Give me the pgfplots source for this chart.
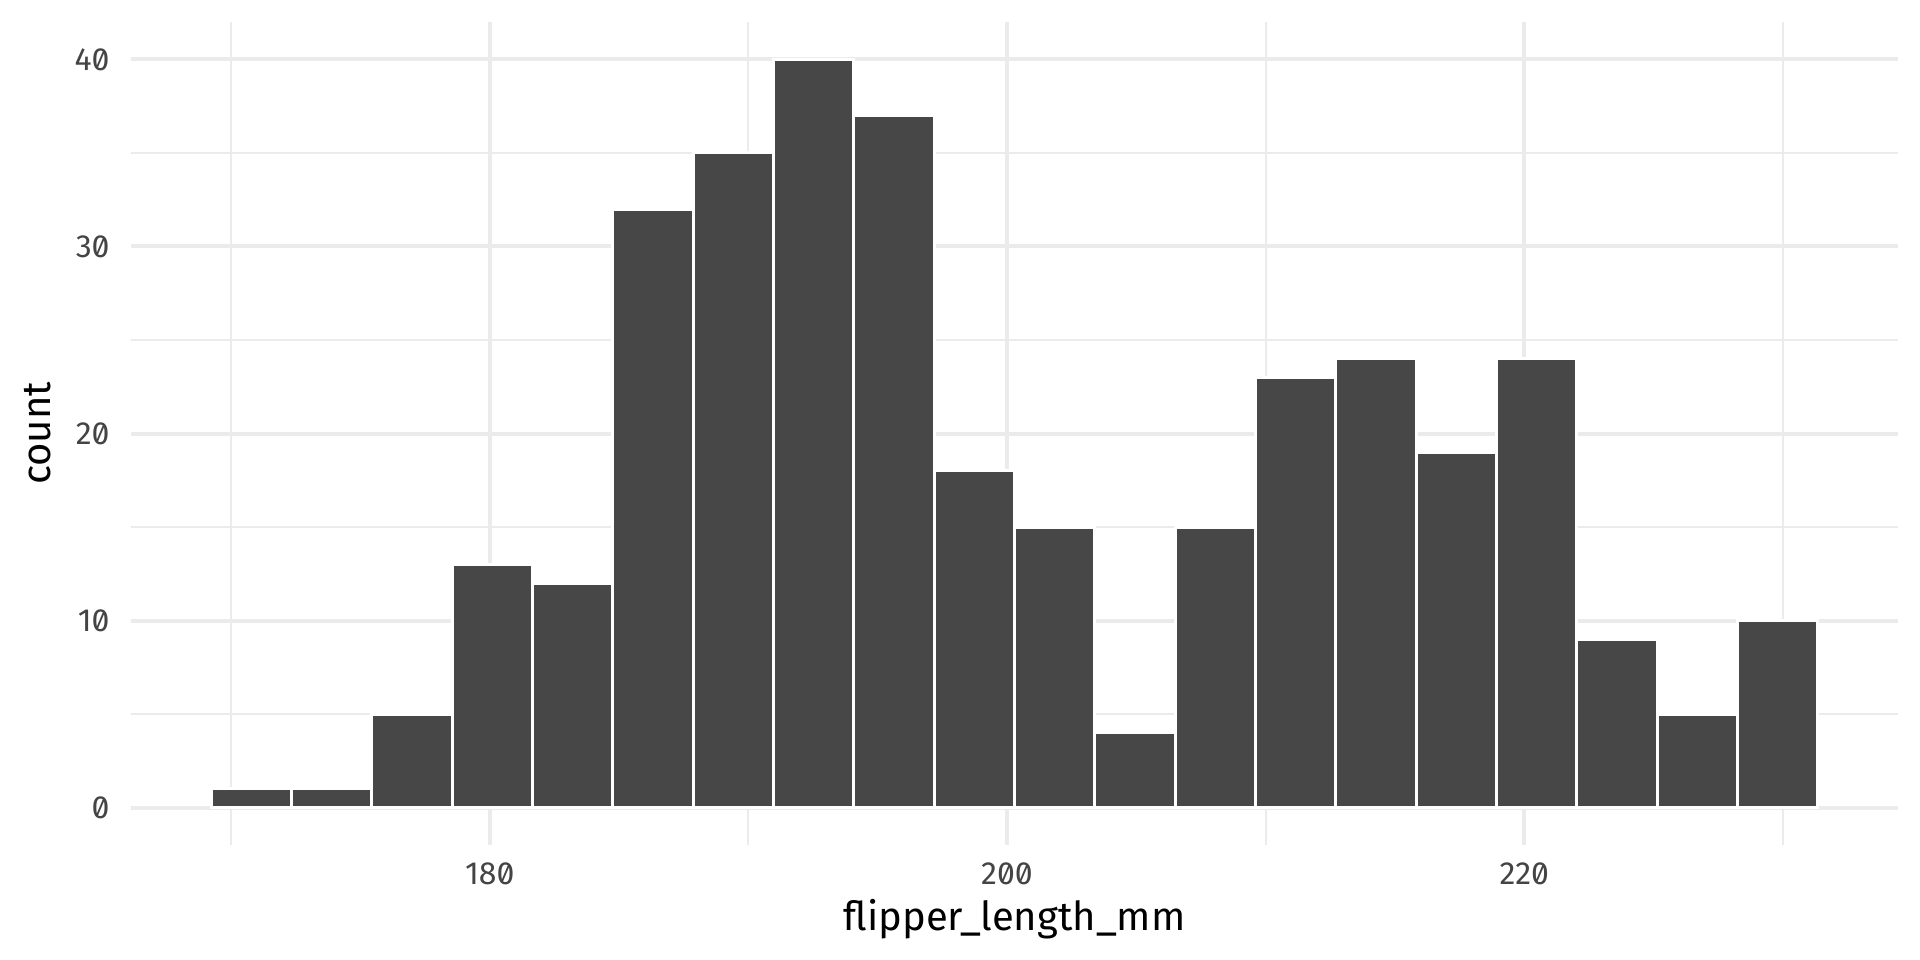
\documentclass[border=0pt]{standalone}
\usepackage{fontspec}
\setmainfont{Fira Sans}[RawFeature=+zero]
\usepackage{pgfplots}
\pgfplotsset{compat=1.18}
\definecolor{gridc}{HTML}{EBEBEB}
\definecolor{barc}{HTML}{474747}
\definecolor{tickc}{HTML}{444444}
\begin{document}
\begin{tikzpicture}
\useasboundingbox (0,0) rectangle (960bp,480bp);
\begin{pgfinterruptboundingbox}
\begin{axis}[
  at={(65.5bp,57.5bp)}, anchor=south west,
  scale only axis, width=883.5bp, height=411.5bp,
  xmin=166.1316, xmax=234.4474, ymin=-2, ymax=42,
  xtick={180,200,220}, ytick={0,10,20,30,40},
  minor xtick={170,190,210,230}, minor ytick={5,15,25,35},
  grid=both,
  major grid style={gridc, line width=2bp},
  minor grid style={gridc, line width=1bp},
  tick style={draw=none},
  axis line style={draw=none},
  /pgf/number format/assume math mode=true,
  ticklabel style={font=\fontsize{16bp}{19bp}\selectfont, text=tickc, inner sep=0pt},
  yticklabel style={anchor=east, xshift=-10.5bp},
  xticklabel style={anchor=north, yshift=-8.5bp},
  xlabel={flipper\_length\_mm},
  ylabel={count},
  label style={font=\fontsize{20bp}{24bp}\selectfont, inner sep=0pt},
  xlabel style={at={(axis description cs:0.5,-0.0656)}, anchor=north},
  ylabel style={at={(axis description cs:-0.045,0.5)}, anchor=south},
]
\addplot[ybar interval, fill=barc, draw=white, line width=1.5bp] coordinates {
(169.2368,1) (172.3421,1) (175.4474,5) (178.5526,13) (181.6579,12)
(184.7632,32) (187.8684,35) (190.9737,40) (194.0789,37) (197.1842,18)
(200.2895,15) (203.3947,4) (206.5000,15) (209.6053,23) (212.7105,24)
(215.8158,19) (218.9211,24) (222.0263,9) (225.1316,5) (228.2368,10)
(231.3421,10)
};
\end{axis}
\end{pgfinterruptboundingbox}
\end{tikzpicture}
\end{document}
